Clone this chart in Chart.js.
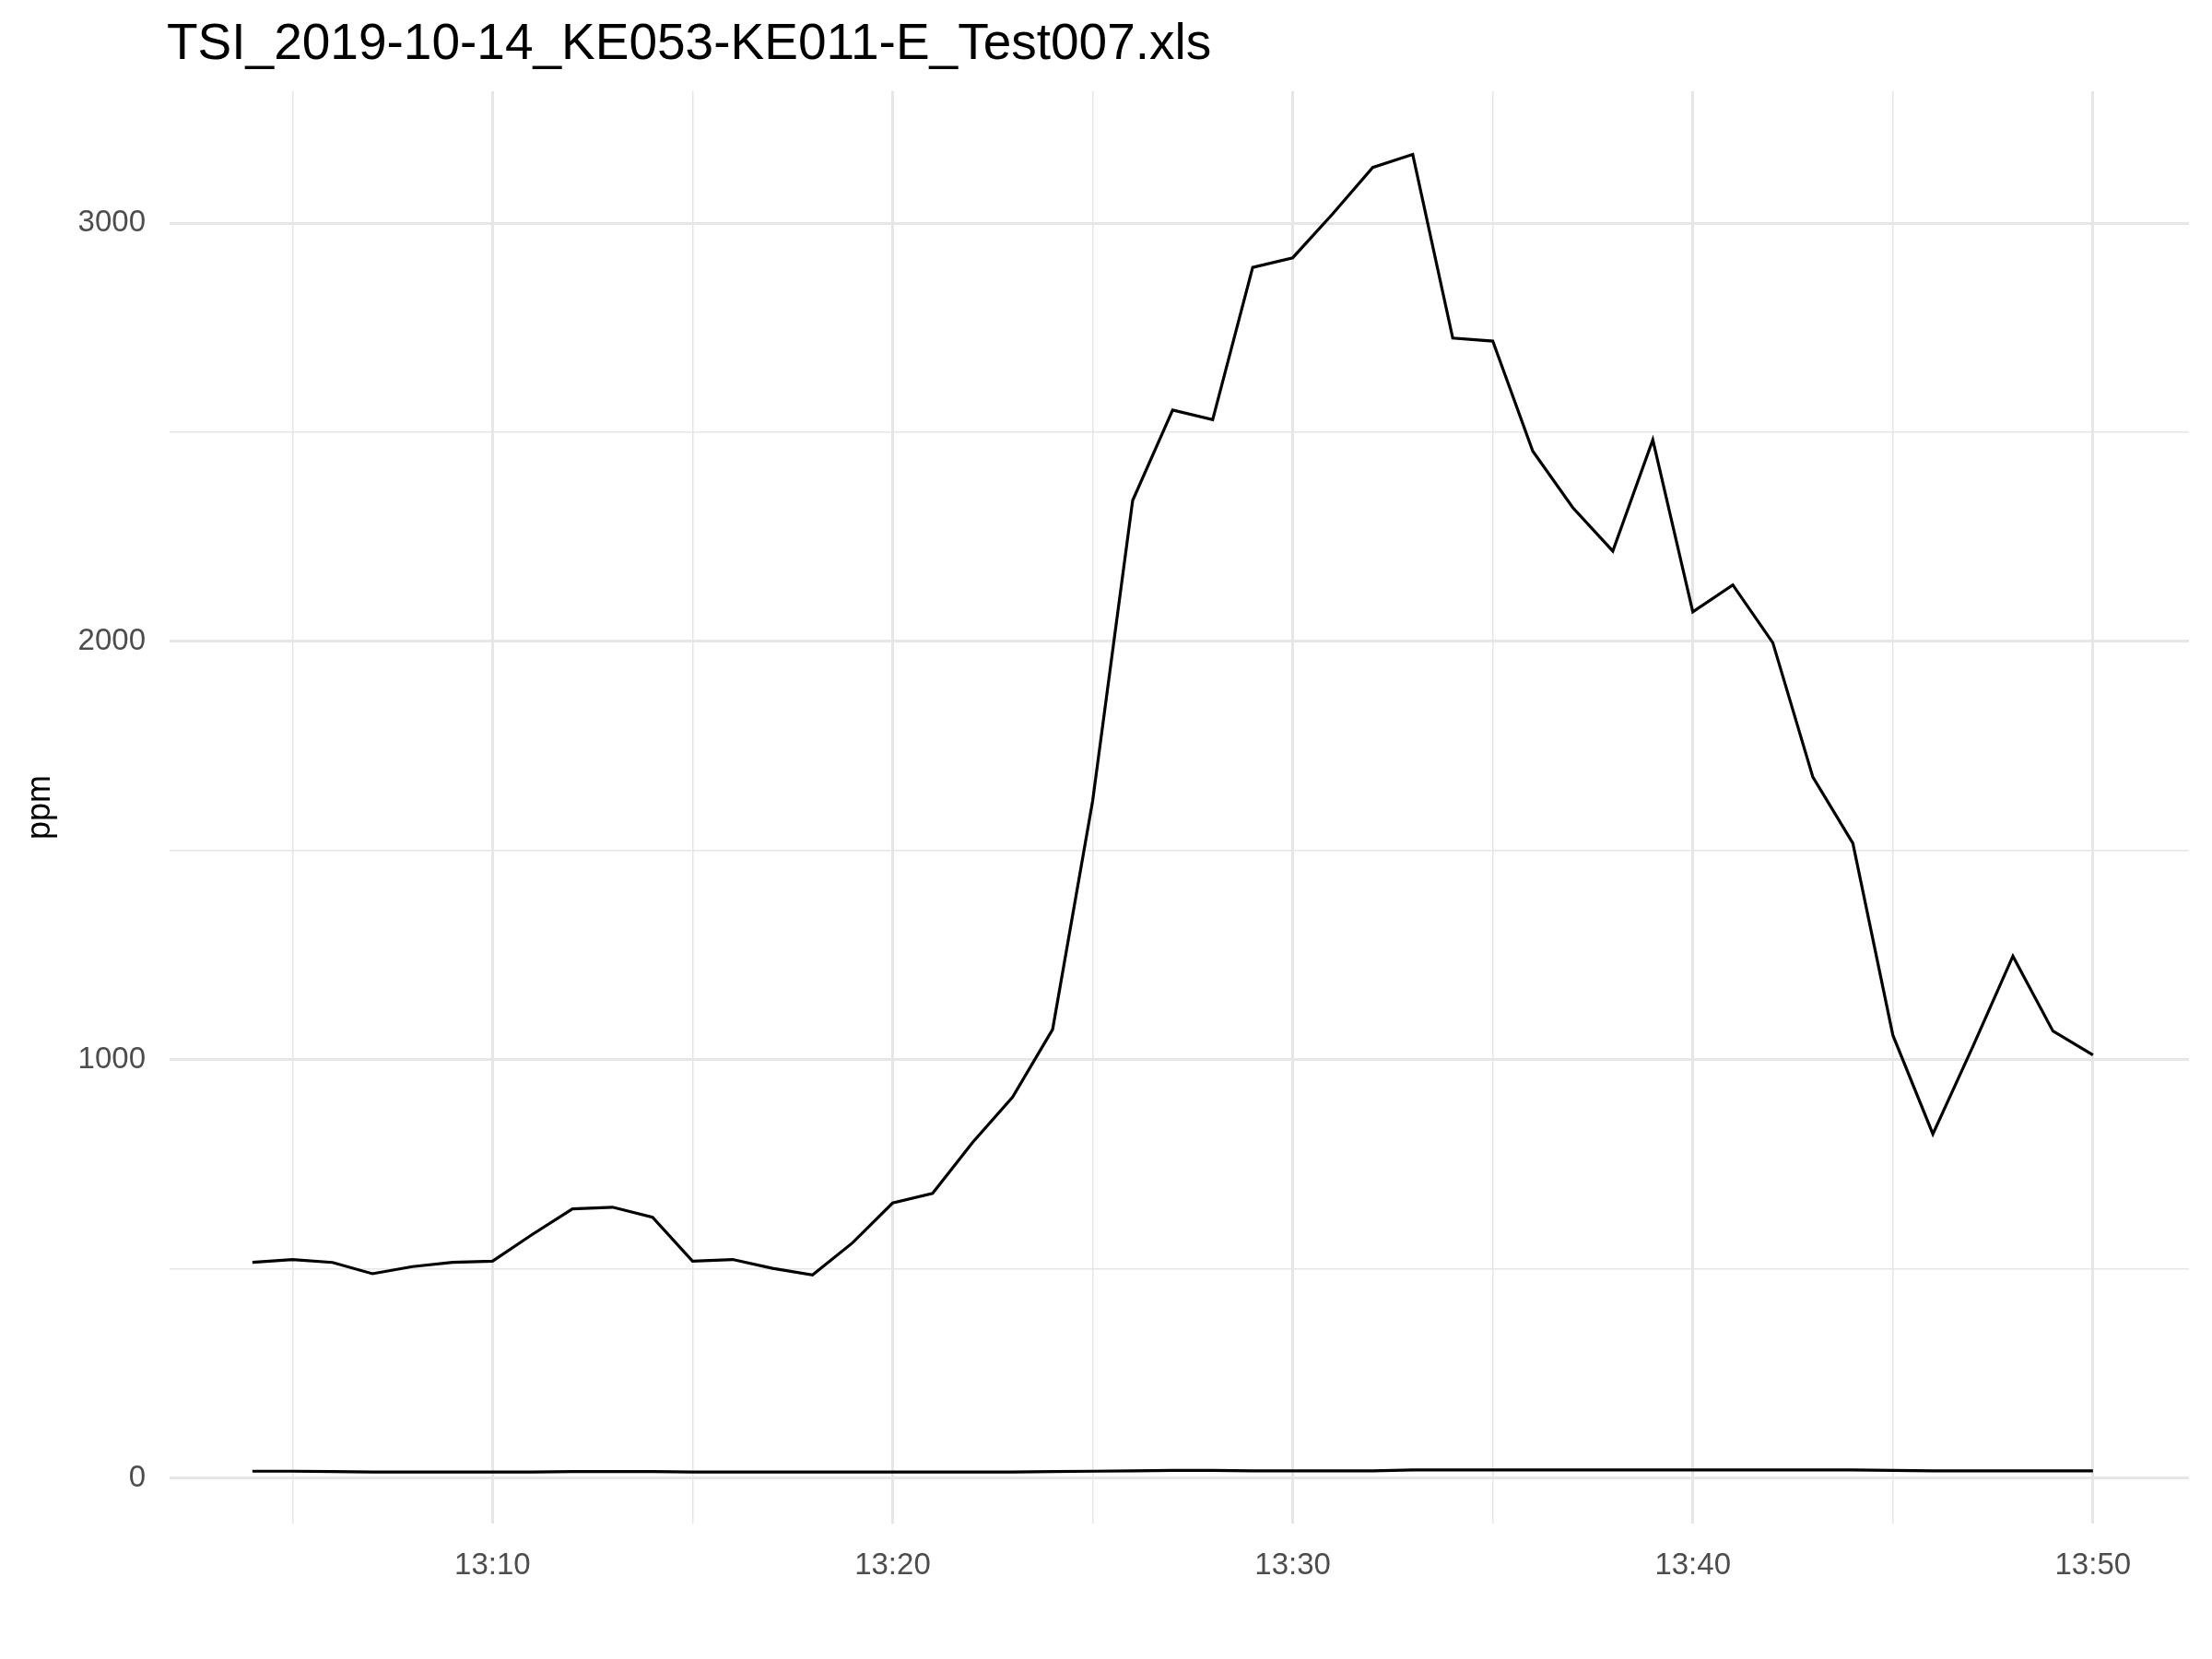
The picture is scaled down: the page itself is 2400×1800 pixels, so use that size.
<!DOCTYPE html>
<html><head><meta charset="utf-8">
<script src="https://cdn.jsdelivr.net/npm/chart.js@4"></script>
<style>html,body{margin:0;padding:0;background:#fff}#c{display:block}</style>
</head><body>
<div style="width:2400px;height:1800px"><canvas id="c" width="2400" height="1800"></canvas></div>
<script>
const chartTitle = "TSI_2019-10-14_KE053-KE011-E_Test007.xls";
const minutes = [4,5,6,7,8,9,10,11,12,13,14,15,16,17,18,19,20,21,22,23,24,25,26,27,28,29,30,31,32,33,34,35,36,37,38,39,40,41,42,43,44,45,46,47,48,49,50];
const seriesA = [516,523,516,489,506,516,519,583,644,648,624,519,523,502,486,563,658,681,803,911,1073,1619,2337,2553,2530,2894,2917,3022,3133,3164,2725,2718,2455,2320,2216,2482,2071,2135,1997,1676,1518,1059,823,1032,1248,1069,1012];
const seriesB = [17,17,16,15,15,15,15,15,16,16,16,15,15,15,15,15,15,15,15,15,16,17,18,19,19,18,18,18,18,20,20,20,20,20,20,20,20,20,20,20,20,19,18,18,18,18,18];
const xTicks = [5,10,15,20,25,30,35,40,45,50];
const yTicks = [0,500,1000,1500,2000,2500,3000];

const titlePlugin = {id:'t', afterDraw(ch){const c=ch.ctx;c.save();c.font='55px "Liberation Sans", Arial, sans-serif';c.fillStyle='#000';c.textBaseline='alphabetic';c.fillText(chartTitle, ch.chartArea.left-3, 64);c.restore();}};
const gridColor='#e6e6e6';
new Chart(document.getElementById('c'),{
 type:'line',
 data:{datasets:[
  {data:minutes.map((m,i)=>({x:m,y:seriesA[i]})),borderColor:'#000',borderWidth:3.2,pointRadius:0,tension:0},
  {data:minutes.map((m,i)=>({x:m,y:seriesB[i]})),borderColor:'#000',borderWidth:3.2,pointRadius:0,tension:0}
 ]},
 options:{responsive:false,animation:false,
  layout:{padding:{top:99,right:25,left:0,bottom:0}},
  plugins:{legend:{display:false},tooltip:{enabled:false}},
  scales:{
   x:{type:'linear',min:1.93,max:52.4,
    afterBuildTicks(s){s.ticks=xTicks.map(v=>({value:v}));},
    afterFit(s){s.height=147;},
    border:{display:false},
    grid:{drawTicks:false,color:gridColor,lineWidth:c=>(c.tick&&c.tick.value%10===0)?3:1.5},
    ticks:{padding:26,color:'#4d4d4d',font:{size:33,family:'"Liberation Sans", Arial, sans-serif'},maxRotation:0,autoSkip:false,
     callback:v=>v%10===0?('13:'+String(v).padStart(2,'0')):''}},
   y:{type:'linear',min:-108,max:3315,
    afterBuildTicks(s){s.ticks=yTicks.map(v=>({value:v}));},
    afterFit(s){s.width=184;},
    border:{display:false},
    grid:{drawTicks:false,color:gridColor,lineWidth:c=>(c.tick&&c.tick.value%1000===0)?3:1.5},
    title:{display:true,text:'ppm',color:'#000',font:{size:36,family:'"Liberation Sans", Arial, sans-serif'},padding:{top:22,bottom:0}},
    ticks:{padding:26,color:'#4d4d4d',font:{size:33,family:'"Liberation Sans", Arial, sans-serif'},autoSkip:false,
     callback:v=>v%1000===0?String(v):''}}
  }},
 plugins:[titlePlugin]
});
</script></body></html>
